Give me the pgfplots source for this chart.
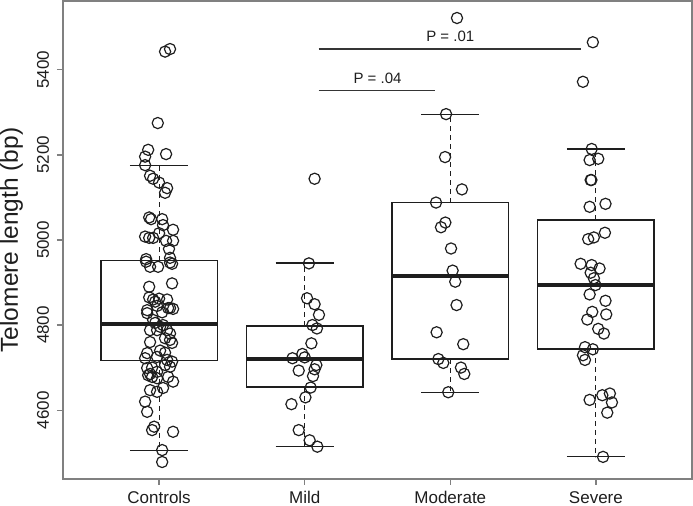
\documentclass[border=0pt]{standalone}
\usepackage{pgfplots}
\pgfplotsset{compat=1.18}
\usepgfplotslibrary{statistics}
\usetikzlibrary{calc}
\usepackage{fontspec}
\setmainfont{Liberation Sans}
\definecolor{framegray}{RGB}{128,128,128}
\definecolor{ink}{RGB}{30,30,30}
\begin{document}
\begin{tikzpicture}
\begin{axis}[
  scale only axis,
  width=629bp, height=478bp,
  xmin=0.34, xmax=4.66,
  ymin=4438, ymax=5562,
  xtick={1,2,3,4},
  xticklabels={Controls,Mild,Moderate,Severe},
  ytick={4600,4800,5000,5200,5400},
  axis line style={framegray, line width=1.2bp},
  tick style={framegray, line width=1.2bp},
  tick align=outside,
  major tick length=6bp,
  xtick pos=left, ytick pos=left,
  /pgf/number format/assume math mode=true,
  /pgf/number format/1000 sep={},
  tick label style={font=\fontsize{17bp}{20bp}\selectfont, text=ink},
  yticklabel style={rotate=90, anchor=base, inner sep=0pt},
  yticklabel shift=8bp,
  xticklabel style={anchor=base, inner sep=0pt},
  xticklabel shift=18bp,
  boxplot/draw direction=y,
  boxplot/box extend=0.8,
  boxplot/whisker extend=0.4,
  boxplot/every median/.style={line width=3.5bp},
  boxplot/draw/lower whisker/.code={%
    \draw[line width=1.1bp, dash pattern=on 5bp off 4bp] (boxplot cs:\pgfplotsboxplotvalue{lower quartile}) -- (boxplot cs:\pgfplotsboxplotvalue{lower whisker});
    \draw[line width=1.2bp] (boxplot whisker cs:\pgfplotsboxplotvalue{lower whisker},0) -- (boxplot whisker cs:\pgfplotsboxplotvalue{lower whisker},1);},
  boxplot/draw/upper whisker/.code={%
    \draw[line width=1.1bp, dash pattern=on 5bp off 4bp] (boxplot cs:\pgfplotsboxplotvalue{upper quartile}) -- (boxplot cs:\pgfplotsboxplotvalue{upper whisker});
    \draw[line width=1.2bp] (boxplot whisker cs:\pgfplotsboxplotvalue{upper whisker},0) -- (boxplot whisker cs:\pgfplotsboxplotvalue{upper whisker},1);},
  clip=false,
]
% boxes
\addplot[ink, line width=1.3bp, boxplot prepared={draw position=1, lower whisker=4505, lower quartile=4716, median=4802, upper quartile=4951, upper whisker=5176}] coordinates {};
\addplot[ink, line width=1.3bp, boxplot prepared={draw position=2, lower whisker=4514, lower quartile=4654, median=4720, upper quartile=4798, upper whisker=4946}] coordinates {};
\addplot[ink, line width=1.3bp, boxplot prepared={draw position=3, lower whisker=4642, lower quartile=4720, median=4915, upper quartile=5088, upper whisker=5296}] coordinates {};
\addplot[ink, line width=1.3bp, boxplot prepared={draw position=4, lower whisker=4490, lower quartile=4744, median=4894, upper quartile=5047, upper whisker=5214}] coordinates {};
% points
\pgfplotsset{pts/.style={only marks, mark=o, mark size=5.6bp, mark options={ink, line width=1.2bp}}}
\addplot[pts] coordinates {
(1.041,5443) (1.075,5449) (0.991,5275) (0.925,5212) (0.904,5196) (1.048,5202)
(0.904,5176) (0.938,5151) (0.959,5144) (1.000,5135) (1.055,5122) (1.041,5111)
(0.932,5053) (0.945,5049) (1.021,5049) (1.027,5035) (1.096,5024) (0.904,5008)
(0.932,5005) (0.959,5005) (1.000,5016) (1.048,4998) (1.096,4998) (1.068,4979)
(0.911,4955) (1.075,4958) (0.911,4949) (0.938,4937) (0.993,4937) (1.075,4947)
(1.089,4944) (0.932,4890) (1.089,4898) (0.932,4865) (0.959,4860) (1.000,4862)
(1.055,4860) (0.918,4835) (1.075,4840) (1.096,4838) (0.918,4828) (0.986,4845)
(0.959,4812) (1.007,4796) (0.938,4788) (0.986,4788) (1.055,4788) (1.041,4769)
(1.075,4765) (1.089,4758) (0.918,4734) (0.986,4725) (1.055,4718) (1.089,4714)
(0.904,4722) (1.041,4706) (1.075,4702) (0.918,4699) (0.925,4682) (0.952,4678)
(0.986,4675) (1.062,4678) (1.096,4667) (0.938,4647) (0.986,4643) (0.904,4620)
(0.918,4596) (0.952,4553) (0.966,4561) (1.096,4549) (1.021,4506) (1.021,4478)
(0.973,4855) (1.021,4830) (1.062,4840) (0.973,4805) (1.027,4800) (1.075,4780)
(1.007,4740) (0.938,4760) (0.952,4700) (0.938,4685) (0.986,4690) (1.041,4735)
(1.027,4652)
};
\addplot[pts] coordinates {
(2.029,4945) (2.016,4863) (2.068,4849) (2.098,4824) (2.053,4800) (2.084,4792)
(2.046,4757) (1.984,4732) (2.000,4724) (1.916,4722) (2.080,4706) (2.068,4696)
(1.959,4693) (2.057,4680) (2.041,4653) (2.005,4630) (1.909,4614) (1.959,4553)
(2.034,4529) (2.087,4514) (2.068,5144)
};
\addplot[pts] coordinates {
(3.046,5522) (2.971,5296) (2.964,5195) (3.080,5119) (2.902,5088) (2.966,5041)
(2.936,5030) (3.005,4980) (3.016,4928) (3.034,4902) (3.043,4847) (2.906,4783)
(3.089,4755) (2.918,4720) (2.952,4711) (3.073,4700) (3.096,4685) (2.986,4642)
};
\addplot[pts] coordinates {
(3.979,5465) (3.911,5372) (3.971,5214) (3.957,5188) (4.016,5191) (3.964,5141)
(3.969,5141) (3.957,5078) (4.066,5085) (3.947,5002) (3.986,5006) (4.062,5017)
(3.895,4944) (3.971,4941) (4.025,4933) (3.964,4923) (3.986,4910) (3.997,4894)
(3.957,4872) (4.066,4857) (3.975,4831) (4.071,4825) (3.941,4813) (4.016,4791)
(4.055,4780) (3.925,4748) (3.979,4743) (3.911,4729) (3.925,4718) (4.044,4635)
(4.096,4639) (3.957,4624) (4.110,4618) (4.078,4594) (4.049,4490)
};
% significance bars
\addplot[ink!90, line width=1.3bp] coordinates {(2.096,5449) (3.897,5449)};
\addplot[ink!90, line width=1.3bp] coordinates {(2.096,5351) (2.897,5351)};
\node[font=\fontsize{15bp}{18bp}\selectfont, text=ink, anchor=base] at (axis cs:3,5466) {P = .01};
\node[font=\fontsize{15bp}{18bp}\selectfont, text=ink, anchor=base] at (axis cs:2.5,5368) {P = .04};
% y label
\node[rotate=90, anchor=base, font=\fontsize{24.5bp}{28bp}\selectfont, text=ink] at ([xshift=-45bp]axis description cs:0,0.5) {Telomere length (bp)};
\end{axis}
\pgfresetboundingbox
\path[use as bounding box] ($(current axis.south west)+(-63bp,-27bp)$) rectangle ($(current axis.north east)+(1bp,1bp)$);
\end{tikzpicture}
\end{document}
